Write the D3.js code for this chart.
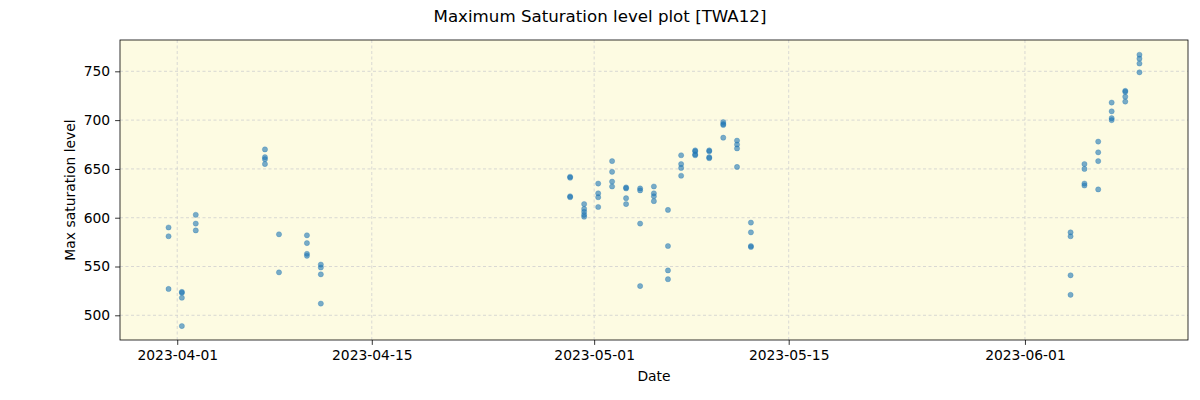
<!DOCTYPE html>
<html>
<head>
<meta charset="utf-8">
<script src="https://cdn.jsdelivr.net/npm/d3@7"></script>
<style>
  body { margin: 0; background: #ffffff; }
  svg { display: block; font-family: "DejaVu Sans", sans-serif; }
</style>
</head>
<body>
<svg id="chart" width="1200" height="400"></svg>
<script>
// ---- data ----
const title = "Maximum Saturation level plot [TWA12]";
const xLabel = "Date";
const yLabel = "Max saturation level";

const sessionTimes = [
  "2023-03-31T09:00", "2023-04-01T08:00", "2023-04-02T08:00", "2023-04-07T07:30",
  "2023-04-08T07:45", "2023-04-10T08:00", "2023-04-11T08:00", "2023-04-29T06:30",
  "2023-04-30T06:45", "2023-05-01T07:00", "2023-05-02T07:00", "2023-05-03T07:10",
  "2023-05-04T07:25", "2023-05-05T07:10", "2023-05-06T07:30", "2023-05-07T06:15",
  "2023-05-08T06:30", "2023-05-09T06:45", "2023-05-10T07:00", "2023-05-11T06:45",
  "2023-05-12T06:45", "2023-06-04T06:45", "2023-06-05T06:45", "2023-06-06T06:30",
  "2023-06-07T05:45", "2023-06-08T05:15", "2023-06-09T05:45"
];
const sessionValues = [
  [590, 581, 527],
  [524, 523, 518, 489],
  [603, 594, 587],
  [670, 662, 660, 655],
  [583, 544],
  [582, 574, 563, 561],
  [552, 549, 542, 512],
  [642, 641, 622, 621],
  [614, 609, 606, 603, 601],
  [635, 625, 621, 611],
  [658, 647, 637, 632],
  [631, 630, 620, 614],
  [630, 628, 594, 530],
  [632, 625, 622, 617],
  [608, 571, 546, 537],
  [664, 655, 651, 643],
  [669, 668, 665, 664],
  [669, 668, 662, 661],
  [698, 696, 695, 682],
  [679, 675, 671, 652],
  [595, 585, 571, 570],
  [585, 581, 541, 521],
  [655, 650, 635, 633],
  [678, 667, 658, 629],
  [718, 709, 702, 700],
  [730, 729, 724, 719],
  [767, 763, 758, 749]
];
const xTickDates = ["2023-04-01", "2023-04-15", "2023-05-01", "2023-05-15", "2023-06-01"];
const yTickValues = [500, 550, 600, 650, 700, 750];

// ---- layout ----
const svg = d3.select("#chart");
const W = 1200, H = 400;
const m = { left: 120, right: 12, top: 40, bottom: 60 };
const pw = W - m.left - m.right, ph = H - m.top - m.bottom;
const tickFont = "13.89px", titleFont = "16.67px";

const parse = d3.timeParse("%Y-%m-%dT%H:%M");
const parseDay = d3.timeParse("%Y-%m-%d");
const points = [];
sessionTimes.forEach((t, i) => {
  sessionValues[i].forEach(v => points.push({ date: parse(t), value: v }));
});

const xExt = d3.extent(points, d => d.date.getTime());
const xPad = (xExt[1] - xExt[0]) * 0.05;
const x = d3.scaleTime()
  .domain([new Date(xExt[0] - xPad), new Date(xExt[1] + xPad)])
  .range([m.left, m.left + pw]);
const y = d3.scaleLinear()
  .domain([474.7, 782.1])
  .range([m.top + ph, m.top]);

// background
svg.append("rect").attr("x", m.left).attr("y", m.top).attr("width", pw).attr("height", ph)
  .attr("fill", "#fdfbe2");

// grid
const xTicks = xTickDates.map(parseDay);
const grid = svg.append("g").attr("stroke", "#cfcfcf").attr("stroke-width", 0.8)
  .attr("stroke-dasharray", "3,2.5");
grid.selectAll("line.gx").data(xTicks).join("line").attr("class", "gx")
  .attr("x1", d => x(d)).attr("x2", d => x(d)).attr("y1", m.top).attr("y2", m.top + ph);
grid.selectAll("line.gy").data(yTickValues).join("line").attr("class", "gy")
  .attr("y1", d => y(d)).attr("y2", d => y(d)).attr("x1", m.left).attr("x2", m.left + pw);

// points
svg.append("g").selectAll("circle").data(points).join("circle")
  .attr("cx", d => x(d.date)).attr("cy", d => y(d.value)).attr("r", 2.6)
  .attr("fill", "#1f77b4").attr("fill-opacity", 0.6)
  .attr("stroke", "#1f77b4").attr("stroke-opacity", 0.6).attr("stroke-width", 0.5);

// axes
const fmt = d3.timeFormat("%Y-%m-%d");
const xAxis = d3.axisBottom(x).tickValues(xTicks).tickFormat(fmt).tickSize(4.9).tickPadding(4.9);
const yAxis = d3.axisLeft(y).tickValues(yTickValues).tickSize(4.9).tickPadding(4.9);
const gx = svg.append("g").attr("transform", `translate(0,${m.top + ph})`).call(xAxis);
const gy = svg.append("g").attr("transform", `translate(${m.left},0)`).call(yAxis);
[gx, gy].forEach(g => {
  g.select(".domain").remove();
  g.selectAll(".tick line").attr("stroke", "#000").attr("stroke-width", 0.8);
  g.selectAll(".tick text").attr("fill", "#000").style("font-size", tickFont)
    .style("font-family", "DejaVu Sans, sans-serif");
});

// frame
svg.append("rect").attr("x", m.left).attr("y", m.top).attr("width", pw).attr("height", ph)
  .attr("fill", "none").attr("stroke", "#000").attr("stroke-width", 0.8);

// labels
svg.append("text").attr("x", W / 2).attr("y", 21.5).attr("text-anchor", "middle")
  .style("font-size", titleFont).text(title);
svg.append("text").attr("x", m.left + pw / 2).attr("y", 381).attr("text-anchor", "middle")
  .style("font-size", tickFont).text(xLabel);
svg.append("text").attr("transform", `translate(74.5,${m.top + ph / 2}) rotate(-90)`)
  .attr("text-anchor", "middle").style("font-size", tickFont).text(yLabel);
</script>
</body>
</html>
